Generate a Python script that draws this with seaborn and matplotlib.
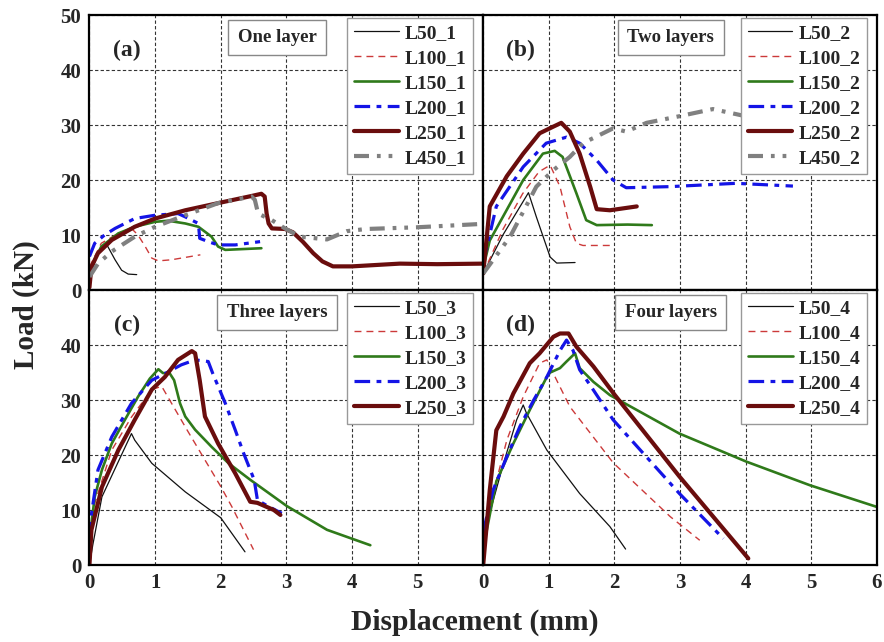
import numpy as np
import pandas as pd
import matplotlib
matplotlib.use("Agg")
import matplotlib.pyplot as plt
import seaborn as sns

# ---- data (displacement mm, load kN) ----
# (a) one layer
L50_1_x = [0, 0.13, 0.23, 0.28, 0.39, 0.49, 0.59, 0.72]
L50_1_y = [1.8, 7.0, 8.2, 7.9, 5.5, 3.6, 2.9, 2.8]
L100_1_x = [0, 0.18, 0.44, 0.64, 0.74, 0.85, 0.95, 1.05, 1.25, 1.69]
L100_1_y = [4.2, 8.5, 10.3, 11.2, 10.0, 7.9, 5.8, 5.3, 5.5, 6.4]
L150_1_x = [0, 0.18, 0.44, 0.69, 1.0, 1.2, 1.46, 1.66, 1.86, 1.96, 2.07, 2.62]
L150_1_y = [3.6, 7.9, 10.3, 11.5, 12.4, 12.6, 12.1, 11.5, 9.7, 7.9, 7.3, 7.6]
L200_1_x = [0, 0.08, 0.23, 0.39, 0.69, 1.0, 1.35, 1.46, 1.66, 1.68, 1.81, 1.96, 2.22, 2.6]
L200_1_y = [6.1, 8.5, 10.0, 11.2, 13.0, 13.6, 13.9, 13.3, 12.1, 9.4, 8.8, 8.2, 8.2, 8.8]
L250_1_x = [0, 0.03, 0.13, 0.34, 0.69, 1.0, 1.46, 1.96, 2.47, 2.62, 2.67, 2.70, 2.73, 2.78,
            2.98, 3.1, 3.25, 3.41, 3.55, 3.71, 4.0, 4.73, 5.3, 6.0]
L250_1_y = [0.5, 4.2, 6.7, 9.1, 11.5, 13.0, 14.5, 15.8, 17.1, 17.5, 17.0, 13.9, 12.1, 11.2,
            11.1, 10.5, 8.8, 6.7, 5.2, 4.3, 4.3, 4.8, 4.7, 4.8]
L450_1_x = [0, 0.13, 0.34, 0.69, 1.0, 1.46, 1.96, 2.47, 2.52, 2.57, 2.78, 2.98, 3.21, 3.62,
            3.92, 4.22, 4.98, 5.95]
L450_1_y = [2.4, 4.8, 7.0, 9.7, 11.5, 13.6, 15.8, 17.0, 16.4, 13.9, 12.7, 11.2, 9.7, 9.2,
            10.7, 11.1, 11.4, 12.0]

# (b) two layers
L50_2_x = [0, 0.3, 0.69, 0.81, 1.02, 1.12, 1.4]
L50_2_y = [3.0, 10.0, 17.7, 13.3, 6.0, 4.9, 5.0]
L100_2_x = [0, 0.3, 0.6, 0.85, 1.02, 1.17, 1.32, 1.42, 1.52, 1.97]
L100_2_y = [3.0, 11.0, 17.5, 21.5, 22.7, 18.8, 11.5, 8.5, 8.1, 8.1]
L150_2_x = [0, 0.1, 0.3, 0.61, 0.91, 1.09, 1.21, 1.42, 1.57, 1.73, 2.2, 2.57]
L150_2_y = [4.0, 9.0, 13.3, 20.0, 24.8, 25.3, 24.2, 17.6, 12.7, 11.8, 11.9, 11.8]
L200_2_x = [0, 0.2, 0.61, 0.96, 1.27, 1.47, 1.73, 1.98, 2.18, 2.85, 3.85, 4.72]
L200_2_y = [5.0, 15.2, 22.4, 26.7, 27.8, 26.7, 23.6, 20.0, 18.6, 18.8, 19.4, 18.9]
L250_2_x = [0, 0.1, 0.36, 0.61, 0.86, 1.05, 1.19, 1.32, 1.47, 1.63, 1.73, 1.93, 2.34]
L250_2_y = [3.0, 15.2, 20.7, 24.8, 28.5, 29.6, 30.4, 28.8, 24.8, 18.8, 14.7, 14.5, 15.2]
L450_2_x = [0, 0.41, 0.81, 1.07, 1.32, 1.52, 1.98, 2.18, 2.49, 2.99, 3.5, 4.0]
L450_2_y = [3.0, 9.7, 18.8, 21.8, 24.2, 26.7, 29.4, 28.8, 30.4, 31.6, 32.9, 31.6]

# (c) three layers
L50_3_x = [0, 0.05, 0.19, 0.44, 0.64, 0.69, 0.95, 1.46, 2.0, 2.37]
L50_3_y = [0, 3.6, 12.4, 18.8, 23.9, 22.7, 18.5, 13.3, 8.6, 2.4]
L100_3_x = [0, 0.08, 0.34, 0.64, 0.95, 1.1, 1.5, 1.99, 2.17, 2.5]
L100_3_y = [0, 11.2, 20.9, 26.9, 31.9, 32.5, 24.3, 14.5, 10.6, 2.8]
L150_3_x = [0, 0.02, 0.08, 0.19, 0.34, 0.54, 0.74, 0.92, 1.05, 1.12, 1.22, 1.29, 1.38, 1.46,
            1.61, 1.86, 2.12, 2.45, 3.01, 3.62, 4.28]
L150_3_y = [0, 6.4, 12.4, 17.3, 22.1, 26.4, 30.6, 33.9, 35.6, 34.9, 34.9, 33.6, 29.4, 27.0,
            24.6, 21.5, 18.5, 15.5, 10.7, 6.4, 3.6]
L200_3_x = [0, 0.01, 0.13, 0.34, 0.64, 0.95, 1.15, 1.4, 1.61, 1.81, 1.88, 2.07, 2.22, 2.35,
            2.51, 2.56, 2.72, 2.93]
L200_3_y = [5.0, 7.6, 17.3, 23.3, 29.4, 33.6, 34.8, 36.4, 37.3, 37.0, 34.8, 29.4, 24.6, 20.3,
            15.5, 11.8, 10.7, 9.4]
L250_3_x = [0, 0.03, 0.19, 0.44, 0.69, 0.95, 1.15, 1.35, 1.56, 1.61, 1.68, 1.76, 1.96, 2.22,
            2.45, 2.56, 2.81, 2.91]
L250_3_y = [0, 6.4, 14.2, 20.9, 26.4, 31.9, 34.2, 37.3, 38.9, 38.5, 33.6, 27.0, 22.1, 16.7,
            11.5, 11.3, 10.0, 9.1]

# (d) four layers
L50_4_x = [0, 0.05, 0.31, 0.51, 0.61, 0.66, 0.97, 1.47, 1.93, 2.17]
L50_4_y = [2.0, 7.3, 18.5, 26.4, 29.1, 27.6, 20.9, 13.0, 7.0, 2.9]
L100_4_x = [0, 0.1, 0.36, 0.61, 0.86, 0.97, 1.07, 1.32, 1.98, 2.85, 3.3]
L100_4_y = [2.0, 10.6, 22.7, 30.6, 36.7, 37.3, 34.8, 28.8, 18.6, 8.8, 4.5]
L150_4_x = [0, 0.2, 0.46, 0.71, 0.97, 1.02, 1.17, 1.27, 1.4, 1.47, 1.68, 1.93, 2.99, 4.01,
            4.98, 5.99]
L150_4_y = [3.0, 15.2, 22.1, 28.2, 34.2, 35.0, 35.8, 37.0, 38.5, 35.8, 33.3, 30.9, 23.9, 18.8,
            14.5, 10.6]
L200_4_x = [0, 0.15, 0.36, 0.56, 0.77, 0.97, 1.17, 1.27, 1.37, 1.47, 1.68, 1.98, 2.99, 3.66]
L200_4_y = [6.0, 13.6, 19.7, 25.2, 30.0, 34.2, 39.0, 40.9, 39.0, 35.5, 31.8, 26.4, 13.0, 4.8]
L250_4_x = [0, 0.1, 0.2, 0.31, 0.46, 0.71, 0.86, 1.07, 1.17, 1.3, 1.42, 1.68, 2.0, 2.99, 4.04]
L250_4_y = [0, 13.6, 24.5, 27.0, 31.2, 36.7, 38.5, 41.5, 42.1, 42.1, 39.7, 36.1, 31.0, 16.1, 1.2]

panels = [
    ("(a)", "One layer", "_1", [(L50_1_x, L50_1_y), (L100_1_x, L100_1_y), (L150_1_x, L150_1_y),
                                (L200_1_x, L200_1_y), (L250_1_x, L250_1_y), (L450_1_x, L450_1_y)]),
    ("(b)", "Two layers", "_2", [(L50_2_x, L50_2_y), (L100_2_x, L100_2_y), (L150_2_x, L150_2_y),
                                 (L200_2_x, L200_2_y), (L250_2_x, L250_2_y), (L450_2_x, L450_2_y)]),
    ("(c)", "Three layers", "_3", [(L50_3_x, L50_3_y), (L100_3_x, L100_3_y), (L150_3_x, L150_3_y),
                                   (L200_3_x, L200_3_y), (L250_3_x, L250_3_y)]),
    ("(d)", "Four layers", "_4", [(L50_4_x, L50_4_y), (L100_4_x, L100_4_y), (L150_4_x, L150_4_y),
                                  (L200_4_x, L200_4_y), (L250_4_x, L250_4_y)]),
]
lengths = ["L50", "L100", "L150", "L200", "L250", "L450"]

# line style per specimen length (dash lengths are scaled by linewidth)
styles = {
    "L50": dict(color="#111111", lw=0.9, ls="-"),
    "L100": dict(color="#cc3a3a", lw=1.0, ls=(0, (5, 3.6))),
    "L150": dict(color="#2f7a1a", lw=1.9, ls="-"),
    "L200": dict(color="#1414e6", lw=2.3, ls=(0, (4.9, 2.0, 1.5, 2.0))),
    "L250": dict(color="#6a0d0d", lw=3.0, ls="-"),
    "L450": dict(color="#808080", lw=3.0, ls=(0, (3.6, 1.9, 0.9, 1.9, 0.9, 1.9))),
}

sns.set_style("white")
plt.rcParams["font.family"] = ["Liberation Serif", "DejaVu Serif"]
plt.rcParams["font.weight"] = "bold"

fig, axes = plt.subplots(2, 2, figsize=(8.84, 6.42), dpi=100)
fig.subplots_adjust(left=0.1012, right=0.992, bottom=0.1199, top=0.9766, wspace=0, hspace=0)

for k, (ax, (tag, title, suffix, curves)) in enumerate(zip(axes.flat, panels)):
    for name, (xs, ys) in zip(lengths, curves):
        st = styles[name]
        df = pd.DataFrame({"x": xs, "y": ys})
        sns.lineplot(data=df, x="x", y="y", ax=ax, sort=False, estimator=None,
                     color=st["color"], linewidth=st["lw"], linestyle=st["ls"],
                     label=name + suffix)
    ax.set_xlim(0, 6)
    ax.set_ylim(0, 50)
    ax.set_xticks(range(0, 7))
    ax.set_yticks(range(0, 51, 10))
    ax.set_xticks(np.arange(0.5, 6, 1.0), minor=True)
    ax.set_yticks(np.arange(5, 50, 10), minor=True)
    ax.grid(True, which="major", color="#333333", ls=(0, (3, 2)), lw=0.8)
    ax.set_xlabel("")
    ax.set_ylabel("")
    for sp in ax.spines.values():
        sp.set_linewidth(1.6)
        sp.set_color("black")
    ax.tick_params(which="major", direction="out", length=4, width=1.3, labelsize=15, pad=2)
    ax.tick_params(which="minor", direction="out", length=2.5, width=1.1)
    row, col = divmod(k, 2)
    if row == 0:
        ax.tick_params(axis="x", which="both", labelbottom=False, length=0)
    else:
        labels = [str(i) for i in range(7)]
        if col == 0:
            labels[6] = ""
        ax.set_xticklabels(labels)
    if col == 1:
        ax.tick_params(axis="y", which="both", labelleft=False, length=0)
    else:
        if row == 1:
            ax.set_yticklabels(["0", "10", "20", "30", "40", ""])
    for lab in ax.get_xticklabels() + ax.get_yticklabels():
        lab.set_fontweight("bold")

    ax.text(0.57, 43.5, tag, fontsize=17, fontweight="bold", ha="center", va="center")
    ax.text(2.86, 45.9, title, fontsize=13.5, fontweight="bold", ha="center", va="center",
            bbox=dict(boxstyle="square,pad=0.5", fc="white", ec="#888888", lw=1.0))
    leg = ax.legend(loc="upper right", bbox_to_anchor=(0.975, 0.99), fontsize=14,
                    handlelength=2.3, handletextpad=0.3, labelspacing=0.38,
                    borderpad=0.35, borderaxespad=0.0,
                    frameon=True, fancybox=False, edgecolor="#999999", framealpha=1)
    leg.get_frame().set_linewidth(1.0)
    for t in leg.get_texts():
        t.set_fontweight("bold")

fig.text(0.03, 0.525, "Load (kN)", rotation=90, fontsize=21, fontweight="bold",
         ha="center", va="center")
fig.text(0.537, 0.031, "Displacement (mm)", fontsize=21.3, fontweight="bold",
         ha="center", va="center")

fig.savefig("out.png", dpi=100)
